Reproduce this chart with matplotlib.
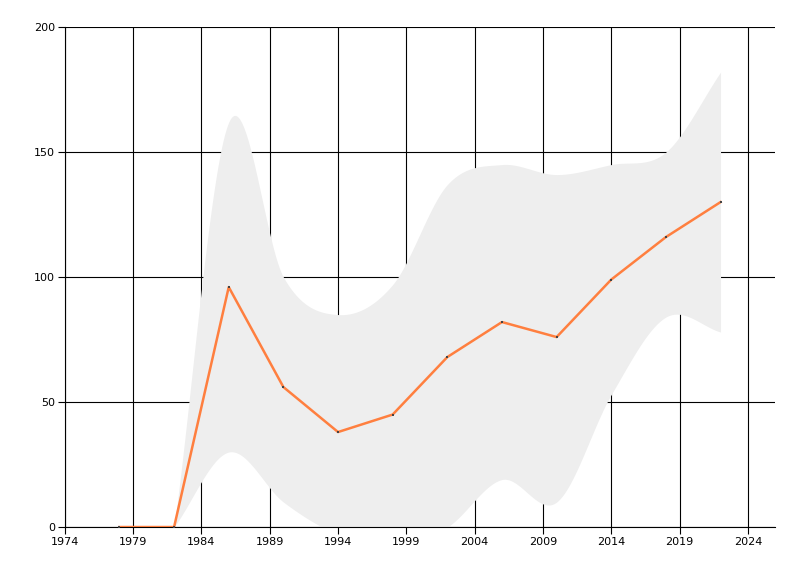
import matplotlib.pyplot as plt
import numpy as np

# dados
anos = [1978, 1982, 1986, 1990, 1994, 1998, 2002, 2006, 2010, 2014, 2018, 2022]
valores = [0, 0, 96, 56, 38, 45, 68, 82, 76, 99, 116, 130]

# faixa cinza (de 1982 em diante)
anos_faixa = [1982, 1986, 1990, 1994, 1998, 2002, 2006, 2010, 2014, 2018, 2022]
faixa_sup = [0, 162, 100, 85, 97, 137, 145, 141, 145, 150, 182]
faixa_inf = [0, 30, 10, -3, -8, 0, 19, 10, 53, 84, 78]

x_ticks = [1974, 1979, 1984, 1989, 1994, 1999, 2004, 2009, 2014, 2019, 2024]
y_ticks = [0, 50, 100, 150, 200]


def spline(xs, ys, n=40):
    # curva suave (catmull-rom) so para desenhar a faixa
    xs = np.asarray(xs, float)
    ys = np.asarray(ys, float)
    m = np.zeros_like(ys)
    m[1:-1] = (ys[2:] - ys[:-2]) / 2
    m[0] = ys[1] - ys[0]
    m[-1] = ys[-1] - ys[-2]
    out_x, out_y = [], []
    for i in range(len(xs) - 1):
        t = np.linspace(0, 1, n, endpoint=False)
        h00 = 2 * t**3 - 3 * t**2 + 1
        h10 = t**3 - 2 * t**2 + t
        h01 = -2 * t**3 + 3 * t**2
        h11 = t**3 - t**2
        out_x.extend(xs[i] + t * (xs[i + 1] - xs[i]))
        out_y.extend(h00 * ys[i] + h10 * m[i] + h01 * ys[i + 1] + h11 * m[i + 1])
    out_x.append(xs[-1])
    out_y.append(ys[-1])
    return np.array(out_x), np.array(out_y)


fig = plt.figure(figsize=(8, 5.76), dpi=100)
ax = fig.add_axes([0.081, 0.085, 0.888, 0.868])

sx, sup = spline(anos_faixa, faixa_sup)
_, inf = spline(anos_faixa, faixa_inf)
ax.fill_between(sx, inf, sup, color='#eeeeee', linewidth=0, zorder=2)

ax.plot(anos, valores, color='#ff7f3f', linewidth=1.8, zorder=3)
ax.scatter(anos, valores, marker='s', s=4, color='#444444', zorder=4, linewidths=0)

ax.set_xlim(1974, 2026)
ax.set_ylim(0, 200)
ax.set_xticks(x_ticks)
ax.set_yticks(y_ticks)
ax.grid(True, color='black', linewidth=0.8, zorder=1)
ax.set_axisbelow(True)

for s in ['top', 'right']:
    ax.spines[s].set_visible(False)
for s in ['left', 'bottom']:
    ax.spines[s].set_linewidth(0.8)

ax.tick_params(direction='out', length=5, width=0.8, labelsize=8, pad=2)

plt.savefig('out.png')
